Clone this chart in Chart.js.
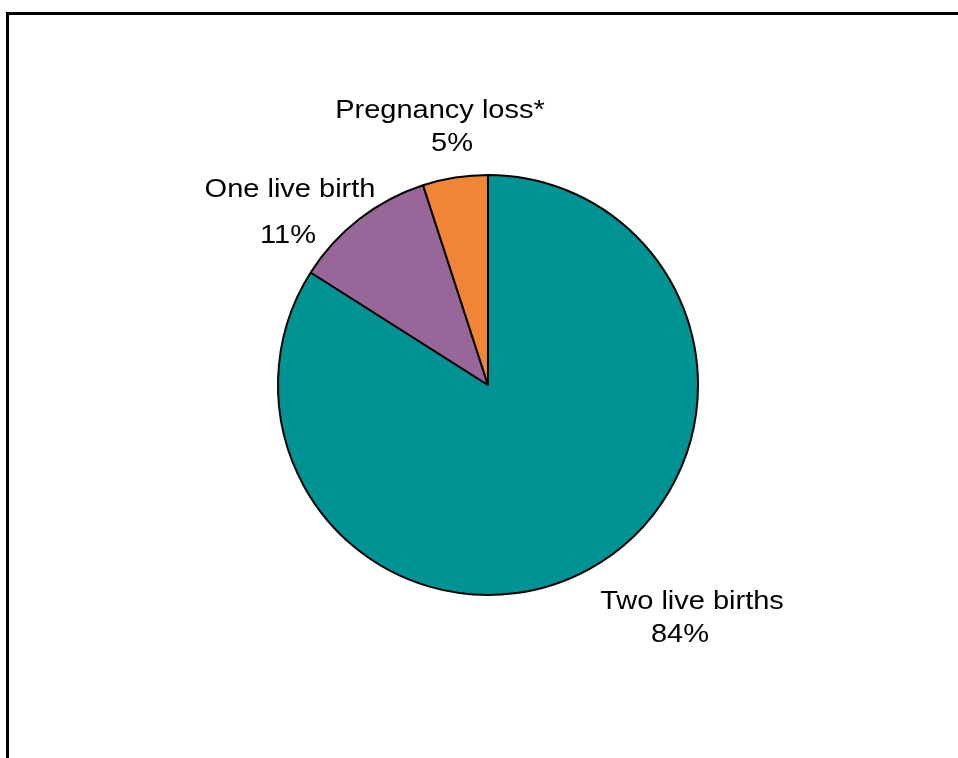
<!DOCTYPE html>
<html>
<head>
<meta charset="utf-8">
<script src="https://cdn.jsdelivr.net/npm/chart.js@4"></script>
<style>
  html, body { margin: 0; padding: 0; background: #fff; }
  #wrap { width: 958px; height: 758px; position: relative; }
</style>
</head>
<body>
<div id="wrap"><canvas id="pieChart"></canvas></div>
<script>
// data
let categories = ["Two live births", "One live birth", "Pregnancy loss*"];
let shares = [84, 11, 5];
let slice_colours = ["#009393", "#996699", "#F08536"];

// where each label sits (text only, centre x / baseline y)
let label_spots = [
    [[692, 609], [680, 642]],
    [[290, 197], [288, 243]],
    [[440, 118], [452, 151]]
];

// the black frame round the picture (top and left edges only)
let framePlugin = {
    id: 'frame',
    beforeDraw(chart) {
        let c = chart.ctx;
        c.save();
        c.fillStyle = '#fff';
        c.fillRect(0, 0, chart.width, chart.height);
        c.strokeStyle = '#000';
        c.lineWidth = 3;
        c.beginPath();
        c.moveTo(7.5, chart.height);
        c.lineTo(7.5, 13.5);
        c.lineTo(chart.width, 13.5);
        c.stroke();
        c.restore();
    }
};

// the original text is a bit wider than Arial, so stretch it sideways
function wideText(c, txt, x, y) {
    c.save();
    c.translate(x, y);
    c.scale(1.16, 1);
    c.fillText(txt, 0, 0);
    c.restore();
}

let labelPlugin = {
    id: 'sliceLabels',
    afterDraw(chart) {
        let c = chart.ctx;
        let data = chart.data.datasets[0].data;
        c.save();
        c.fillStyle = '#000';
        c.font = '25px "Liberation Sans", Arial, sans-serif';
        c.textAlign = 'center';
        c.textBaseline = 'alphabetic';
        for (let i = 0; i < data.length; i++) {
            let spot = label_spots[i];
            wideText(c, chart.data.labels[i], spot[0][0], spot[0][1]);
            wideText(c, data[i] + '%', spot[1][0], spot[1][1]);
        }
        c.restore();
    }
};

let ctx = document.getElementById('pieChart');
let pieChart = new Chart(ctx, {
    type: 'pie',
    data: {
        labels: categories,
        datasets: [{
            data: shares,
            backgroundColor: slice_colours,
            borderColor: '#000',
            borderWidth: 2
        }]
    },
    options: {
        responsive: true,
        maintainAspectRatio: false,
        animation: false,
        rotation: 0,
        layout: {
            padding: { left: 277, right: 259, top: 174, bottom: 162 }
        },
        plugins: {
            legend: { display: false },
            tooltip: { enabled: false }
        }
    },
    plugins: [framePlugin, labelPlugin]
});
</script>
</body>
</html>
